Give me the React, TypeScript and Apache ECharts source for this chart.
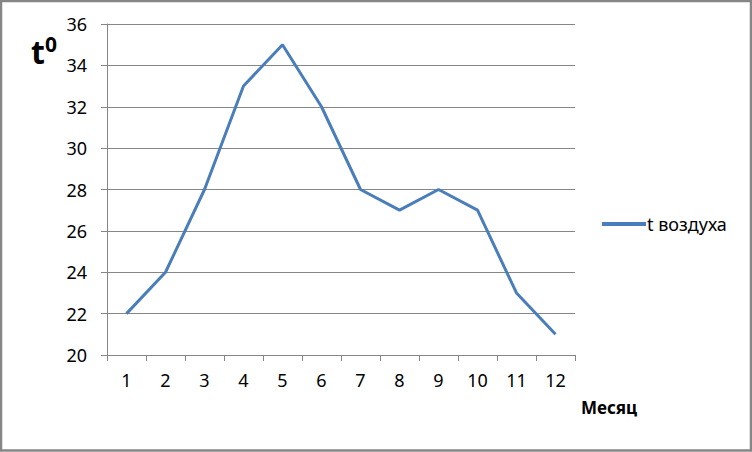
import React, { useEffect, useRef } from "react";
import * as echarts from "echarts";

const months = ["1", "2", "3", "4", "5", "6", "7", "8", "9", "10", "11", "12"];
const airTemp = [22, 24, 28, 33, 35, 32, 28, 27, 28, 27, 23, 21];
const seriesName = "t воздуха";
const yMin = 20;
const yMax = 36;
const yStep = 2;

export default function App() {
  const ref = useRef<HTMLDivElement>(null);
  useEffect(() => {
    document.body.style.margin = "0";
    const chart = echarts.init(ref.current!, null, { renderer: "svg" });
    const font = "Noto Sans";
    chart.setOption({
      animation: false,
      backgroundColor: "#ffffff",
      grid: { left: 107, right: 177, top: 24, bottom: 97, containLabel: false },
      legend: {
        data: [seriesName],
        left: 602,
        top: 215,
        padding: 0,
        orient: "vertical",
        itemWidth: 44,
        itemHeight: 4,
        itemGap: 4,
        icon: "rect",
        textStyle: { fontFamily: font, fontSize: 18, color: "#000", padding: [0, 0, 0, -4] },
      },
      xAxis: {
        type: "category",
        data: months,
        boundaryGap: true,
        axisLine: { lineStyle: { color: "#868686", width: 1 } },
        axisTick: { show: true, length: 6, lineStyle: { color: "#868686" } },
        axisLabel: { fontFamily: font, fontSize: 18, color: "#000", margin: 16 },
        splitLine: { show: false },
      },
      yAxis: {
        type: "value",
        min: yMin,
        max: yMax,
        interval: yStep,
        axisLine: { show: true, lineStyle: { color: "#868686", width: 1 } },
        axisTick: { show: true, length: 6, lineStyle: { color: "#868686" } },
        axisLabel: { fontFamily: font, fontSize: 18, color: "#000", margin: 20 },
        splitLine: { show: true, lineStyle: { color: "#868686", width: 1 } },
      },
      series: [
        {
          name: seriesName,
          type: "line",
          data: airTemp,
          symbol: "none",
          lineStyle: { color: "#4a7ebb", width: 3 },
          itemStyle: { color: "#4a7ebb" },
        },
      ],
      graphic: [
        {
          type: "rect",
          shape: { x: 1, y: 1, width: 750, height: 449.5 },
          style: { fill: "none", stroke: "#868686", lineWidth: 2.5 },
          silent: true,
        },
        {
          type: "text",
          left: 31,
          top: 33,
          style: {
            text: "{a|t}{b|0}",
            rich: {
              a: { fontFamily: font, fontSize: 32, fontWeight: "bold", fill: "#000", verticalAlign: "bottom" },
              b: { fontFamily: font, fontSize: 21, fontWeight: "bold", fill: "#000", verticalAlign: "top", padding: [0, 0, 13, 0] },
            },
          },
        },
        {
          type: "text",
          left: 581,
          top: 399,
          style: { text: "Месяц", fontFamily: font, fontSize: 17, fontWeight: "bold", fill: "#000" },
        },
      ],
    });
    return () => chart.dispose();
  }, []);
  return <div ref={ref} style={{ width: 752, height: 452 }} />;
}
